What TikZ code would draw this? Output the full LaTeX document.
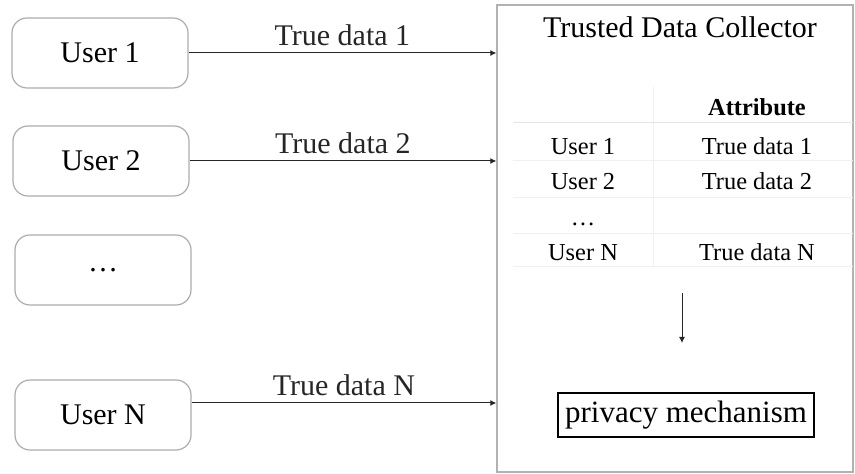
\documentclass[tikz,border=0pt]{standalone}
\usepackage{fontspec}
\setmainfont{Liberation Serif}
\usetikzlibrary{arrows.meta,positioning}

\begin{document}
\begin{tikzpicture}[
  x=0.5pt, y=-0.5pt,
  font=\fontsize{15}{18}\selectfont,
  user/.style={draw=gray!65, line width=0.6pt, rounded corners=7.5pt, align=center, minimum width=88pt, minimum height=35pt},
  collector/.style={draw=gray!60, line width=0.7pt, minimum width=178pt, minimum height=233.5pt, inner sep=0pt},
  cell/.style={font=\fontsize{12.2}{14}\selectfont, inner sep=0pt, anchor=base},
  mech/.style={draw, line width=1pt, minimum width=128pt, minimum height=22pt, inner sep=1pt, font=\fontsize{15.5}{18}\selectfont},
  rule/.style={draw=gray!12, line width=0.5pt},
  arr/.style={-{Latex[length=3pt,width=3pt]}, line width=0.5pt, black!85},
  lbl/.style={above=0pt}
]
\useasboundingbox (0,0) rectangle (855,474);
% users
\node[user] (u1) at (100,53) {User 1};
\node[user] (u2) at (101,161) {User 2};
\node[user] (ud) at (103,270) {\dots};
\node[user] (un) at (103,415) {User N};
% collector
\node[collector] (tdc) at (675,238.5) {};
\node[anchor=base] (title) at (680,38) {Trusted Data Collector};
% table
\node[cell] (hd) at (757,116) {\textbf{Attribute}};
\node[cell] (a1) at (583,155) {User 1};
\node[cell] (b1) at (757,155) {True data 1};
\node[cell] (a2) at (583,190) {User 2};
\node[cell] (b2) at (757,190) {True data 2};
\node[cell] (ad) at (583,226) {\dots};
\node[cell] (an) at (583,261) {User N};
\node[cell] (bn) at (757,261) {True data N};
\draw[rule] (653,87) -- (653,267);
\draw[draw=gray!20, line width=0.5pt] (513,123) -- (853,123);
\foreach \y in {161,198,234,267} \draw[rule] (513,\y) -- (853,\y);
\coordinate (dtop) at (682,293);
\coordinate (dbot) at (682,343);
\node[mech] (pm) at (686,415) {privacy mechanism};
% connectors
\draw[arr] (u1.east) -- node[lbl]{True data 1} (u1.east -| tdc.west);
\draw[arr] (u2.east) -- node[lbl]{True data 2} (u2.east -| tdc.west);
\draw[arr] ([yshift=6pt]un.east) -- node[lbl]{True data N} ([yshift=6pt]un.east -| tdc.west);
\draw[arr] (dtop) -- (dbot);
\end{tikzpicture}
\end{document}
